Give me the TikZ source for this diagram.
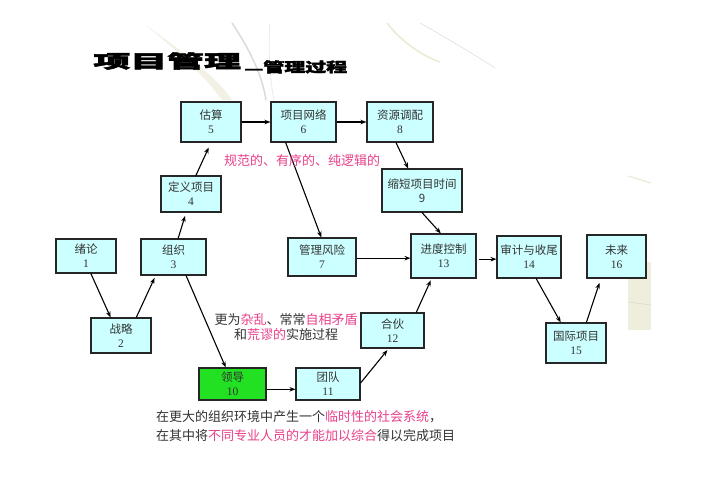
\documentclass[tikz,border=0pt]{standalone}
\usepackage{fontspec}
\setmainfont{Noto Sans CJK SC}
\newfontfamily\cjk{Noto Sans CJK SC}
\newfontfamily\titlefont[BoldFeatures={FakeBold=2.5}]{Noto Sans CJK SC}
\newfontfamily\dg{Liberation Serif}
\usetikzlibrary{arrows.meta,calc}
\definecolor{boxfill}{HTML}{CCFFFF}
\definecolor{pinktxt}{HTML}{E8408A}
\definecolor{darktxt}{HTML}{333333}
\definecolor{greenfill}{HTML}{22E022}
\definecolor{beigebg}{HTML}{ECE9D4}
\newcommand{\pk}[1]{\textcolor{pinktxt}{#1}}
\begin{document}
\begin{tikzpicture}[x=1pt,y=-1pt,
  box/.style={draw=black!85, line width=1.1pt, fill=boxfill, align=center, inner sep=0pt,
    font=\fontsize{11.5}{14}\selectfont, text=darktxt},
  arr/.style={-{Stealth[length=6pt,width=4.5pt]}, line width=1.1pt, black},
  note/.style={font=\fontsize{13}{15}\selectfont, text=darktxt, inner sep=0pt}]
\useasboundingbox (0,0) rectangle (702,496);
\fill[white] (0,0) rectangle (702,496);
% faint background decoration
\fill[beigebg, opacity=0.6] (143,23) .. controls (180,50) and (215,75) .. (232,100) -- (222,100) .. controls (200,70) and (170,45) .. (143,23) -- cycle;
\draw[black!14, line width=1.5pt] (232,23) .. controls (250,50) and (262,75) .. (266,100);
\draw[black!8, line width=0.8pt] (270,23) .. controls (268,50) and (270,80) .. (274,100);
\draw[beigebg, line width=1.5pt] (387,23) .. controls (400,40) and (420,55) .. (440,62);
\draw[black!12, line width=0.6pt] (420,23) .. controls (450,40) and (475,55) .. (495,68);
\fill[beigebg, opacity=0.8] (628,262) rectangle (651,330);
\draw[black!18] (628,302) -- (651,305);
\draw[beigebg, line width=1.2pt] (628,176) -- (651,183);

% title
\node[anchor=west, inner sep=0pt, xscale=2.05, font=\fontsize{18}{18}\selectfont\titlefont\bfseries] (title) at (93,61) {项目管理};
\node[anchor=west, inner sep=0pt, xscale=1.55, font=\fontsize{13.5}{13.5}\selectfont\titlefont\bfseries] (subtitle) at (244,67) {\raisebox{-0.12em}{—}管理过程};

% boxes
\node[box, minimum width=60pt, minimum height=34pt] (n1) at (86,256) {绪论\\\dg 1};
\node[box, minimum width=60pt, minimum height=35pt] (n2) at (121,335.5) {战略\\\dg 2};
\node[box, minimum width=65pt, minimum height=36pt] (n3) at (173.5,257) {组织\\\dg 3};
\node[box, minimum width=60pt, minimum height=36pt] (n4) at (191,194) {定义项目\\\dg 4};
\node[box, minimum width=60pt, minimum height=40pt] (n5) at (211,122) {估算\\\dg 5};
\node[box, minimum width=65pt, minimum height=40pt] (n6) at (303.5,122) {项目网络\\\dg 6};
\node[box, minimum width=68pt, minimum height=38pt] (n7) at (322,257) {管理风险\\\dg 7};
\node[box, minimum width=66pt, minimum height=40pt] (n8) at (400,122) {资源调配\\\dg 8};
\node[box, minimum width=80pt, minimum height=43pt] (n9) at (422,190.5) {缩短项目时间\\9};
\node[box, minimum width=67pt, minimum height=32pt, fill=greenfill] (n10) at (232.5,384) {领导\\\dg 10};
\node[box, minimum width=64pt, minimum height=32pt] (n11) at (328,384) {团队\\\dg 11};
\node[box, minimum width=63pt, minimum height=35pt] (n12) at (392.5,330.5) {合伙\\\dg 12};
\node[box, minimum width=65pt, minimum height=44pt] (n13) at (443.5,256) {进度控制\\\dg 13};
\node[box, minimum width=64pt, minimum height=42pt] (n14) at (529,257) {审计与收尾\\\dg 14};
\node[box, minimum width=60pt, minimum height=40pt] (n15) at (576,343) {国际项目\\\dg 15};
\node[box, minimum width=59pt, minimum height=43pt] (n16) at (616.5,256.5) {未来\\\dg 16};

% helper coordinates for horizontal connectors
\coordinate (c7) at ($(n7.north east)!.53!(n7.south east)$);
\coordinate (c13) at ($(n13.north east)!.57!(n13.south east)$);
\coordinate (c10) at ($(n10.north east)!.66!(n10.south east)$);

% arrows
\draw[arr] ($(n1.south west)!.58!(n1.south east)$) -- ($(n2.north west)!.33!(n2.north east)$);
\draw[arr, shorten >=2.5pt] ($(n2.north west)!.75!(n2.north east)$) -- ($(n3.south west)!.23!(n3.south east)$);
\draw[arr, shorten >=3.5pt] ($(n3.north west)!.57!(n3.north east)$) -- ($(n4.south west)!.42!(n4.south east)$);
\draw[arr, shorten >=5.5pt] ($(n4.north west)!.58!(n4.north east)$) -- ($(n5.south west)!.5!(n5.south east)$);
\draw[arr] (n5.east) -- (n6.west);
\draw[arr] (n6.east) -- (n8.west);
\draw[arr] ($(n8.south west)!.44!(n8.south east)$) -- ($(n9.north west)!.33!(n9.north east)$);
\draw[arr] ($(n6.south west)!.23!(n6.south east)$) -- ($(n7.north west)!.49!(n7.north east)$);
\draw[arr] ($(n9.south west)!.5!(n9.south east)$) -- ($(n13.north west)!.46!(n13.north east)$);
\draw[arr] (c7) -- (c7 -| n13.west);
\draw[arr, shorten <=2pt] (c13) -- (c13 -| n14.west);
\draw[arr] ($(n14.south west)!.61!(n14.south east)$) -- ($(n15.north west)!.25!(n15.north east)$);
\draw[arr, shorten >=4.5pt] ($(n15.north west)!.67!(n15.north east)$) -- ($(n16.south west)!.24!(n16.south east)$);
\draw[arr, shorten >=2pt] ($(n12.north west)!.87!(n12.north east)$) -- ($(n13.south west)!.32!(n13.south east)$);
\draw[arr] ($(n3.south west)!.69!(n3.south east)$) -- ($(n10.north west)!.4!(n10.north east)$);
\draw[arr] (c10) -- (c10 -| n11.west);
\draw[arr, shorten >=2pt] ($(n11.north east)!.47!(n11.south east)$) -- ($(n12.south west)!.44!(n12.south east)$);

% notes
\node[note, text=pinktxt] (t1) at (302,161) {规范的、有序的、纯逻辑的};
\node[note, align=center] (t2) at (286,327.5) {更为\pk{杂乱}、常常\pk{自相矛盾}\\和\pk{荒谬的}实施过程};
\node[note, align=left, anchor=west, font=\fontsize{13}{19}\selectfont] (t3) at (156,426.5) {在更大的组织环境中产生一个\pk{临时性的社会系统}，\\在其中将\pk{不同专业人员的才能加以综合}得以完成项目};
\end{tikzpicture}
\end{document}
